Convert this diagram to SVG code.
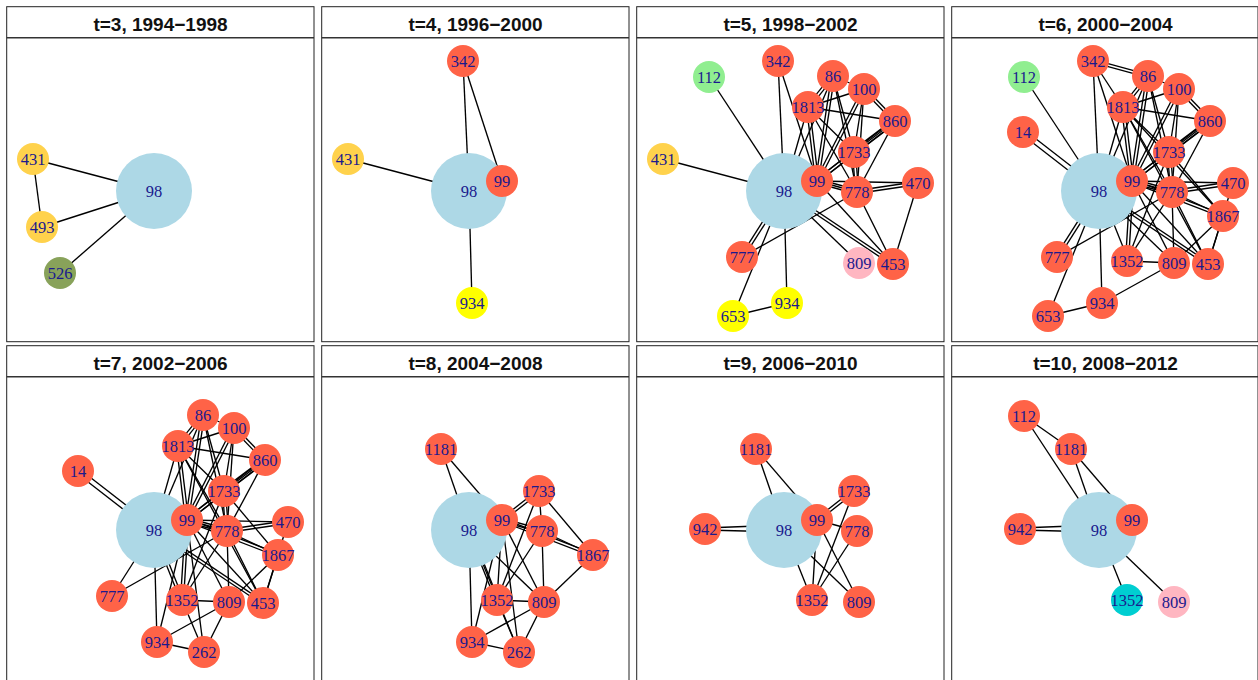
<svg xmlns="http://www.w3.org/2000/svg" width="1258" height="680" viewBox="0 0 1258 680">
<style>
.frame{fill:#fff;stroke:#222;stroke-width:1}
.hdr{stroke:#333;stroke-width:1.4}
.title{font-family:"Liberation Sans",Arial,sans-serif;font-weight:bold;font-size:19px;fill:#111;text-anchor:middle}
.edges line{stroke:#000;stroke-width:1.35}
.lbl{font-family:"Liberation Serif","Times New Roman",serif;font-size:16.5px;fill:#1a1a8e;text-anchor:middle}
.lb{fill:#ADD8E6}
.tm{fill:#FF6347}
.gd{fill:#FFD24C}
.ol{fill:#88A25A}
.ye{fill:#FFFF00}
.lg{fill:#90EE90}
.pk{fill:#FFB6C1}
.cy{fill:#00CED1}
</style>
<rect width="1258" height="680" fill="#fff"/>

<!-- t=3 -->
<g id="panel-t3" transform="translate(0,0)">
<rect class="frame" x="6.7" y="6.7" width="307.3" height="335"/>
<line class="hdr" x1="6.7" y1="37.7" x2="314" y2="37.7"/>
<text class="title" x="160.5" y="31">t=3, 1994−1998</text>
<g class="edges">
<line x1="154" y1="191" x2="33" y2="159"/>
<line x1="154" y1="191" x2="42" y2="227"/>
<line x1="154" y1="191" x2="60" y2="273"/>
<line x1="33" y1="159" x2="42" y2="227"/>
</g>
<g id="t3-98"><circle class="lb" cx="154" cy="191" r="38"/><text class="lbl" x="154" y="196.5">98</text></g>
<g id="t3-431"><circle class="gd" cx="33" cy="159" r="16"/><text class="lbl" x="33" y="164.5">431</text></g>
<g id="t3-493"><circle class="gd" cx="42" cy="227" r="16"/><text class="lbl" x="42" y="232.5">493</text></g>
<g id="t3-526"><circle class="ol" cx="60" cy="273" r="16"/><text class="lbl" x="60" y="278.5">526</text></g>
</g>

<!-- t=4 -->
<g id="panel-t4" transform="translate(315,0)">
<rect class="frame" x="6.7" y="6.7" width="307.3" height="335"/>
<line class="hdr" x1="6.7" y1="37.7" x2="314" y2="37.7"/>
<text class="title" x="160.5" y="31">t=4, 1996−2000</text>
<g class="edges">
<line x1="154" y1="191" x2="33" y2="159"/>
<line x1="154" y1="191" x2="148" y2="61"/>
<line x1="148" y1="61" x2="187" y2="181"/>
<line x1="154" y1="191" x2="157" y2="303"/>
<line x1="154" y1="191" x2="187" y2="181"/>
</g>
<g id="t4-98"><circle class="lb" cx="154" cy="191" r="38"/><text class="lbl" x="154" y="196.5">98</text></g>
<g id="t4-342"><circle class="tm" cx="148" cy="61" r="16"/><text class="lbl" x="148" y="66.5">342</text></g>
<g id="t4-431"><circle class="gd" cx="33" cy="159" r="16"/><text class="lbl" x="33" y="164.5">431</text></g>
<g id="t4-99"><circle class="tm" cx="187" cy="181" r="16"/><text class="lbl" x="187" y="186.5">99</text></g>
<g id="t4-934"><circle class="ye" cx="157" cy="303" r="16"/><text class="lbl" x="157" y="308.5">934</text></g>
</g>

<!-- t=5 -->
<g id="panel-t5" transform="translate(630,0)">
<rect class="frame" x="6.7" y="6.7" width="307.3" height="335"/>
<line class="hdr" x1="6.7" y1="37.7" x2="314" y2="37.7"/>
<text class="title" x="160.5" y="31">t=5, 1998−2002</text>
<g class="edges">
<line x1="179.2" y1="107.9" x2="204.2" y2="76.9"/><line x1="176.8" y1="106.1" x2="201.8" y2="75.1"/>
<line x1="178" y1="107" x2="234" y2="89"/>
<line x1="178" y1="107" x2="265" y2="121"/>
<line x1="176.5" y1="107.2" x2="185.5" y2="181.2"/><line x1="179.5" y1="106.8" x2="188.5" y2="180.8"/>
<line x1="178" y1="107" x2="154" y2="191"/>
<line x1="178" y1="107" x2="227" y2="192"/>
<line x1="178" y1="107" x2="224" y2="152"/>
<line x1="203" y1="76" x2="234" y2="89"/>
<line x1="201.5" y1="75.8" x2="185.5" y2="180.8"/><line x1="204.5" y1="76.2" x2="188.5" y2="181.2"/>
<line x1="203" y1="76" x2="224" y2="152"/>
<line x1="203" y1="76" x2="227" y2="192"/>
<line x1="203" y1="76" x2="154" y2="191"/>
<line x1="232.9" y1="90" x2="263.9" y2="122"/><line x1="235.1" y1="88" x2="266.1" y2="120"/>
<line x1="232.7" y1="88.3" x2="185.7" y2="180.3"/><line x1="235.3" y1="89.7" x2="188.3" y2="181.7"/>
<line x1="234" y1="89" x2="224" y2="152"/>
<line x1="234" y1="89" x2="227" y2="192"/>
<line x1="265" y1="121" x2="224" y2="152"/><line x1="263.8" y1="119.4" x2="222.8" y2="150.4"/><line x1="266.2" y1="122.6" x2="225.2" y2="153.6"/>
<line x1="264.1" y1="119.8" x2="186.1" y2="179.8"/><line x1="265.9" y1="122.2" x2="187.9" y2="182.2"/>
<line x1="265" y1="121" x2="227" y2="192"/>
<line x1="223.1" y1="150.8" x2="186.1" y2="179.8"/><line x1="224.9" y1="153.2" x2="187.9" y2="182.2"/>
<line x1="222.5" y1="152" x2="225.5" y2="192"/><line x1="225.5" y1="152" x2="228.5" y2="192"/>
<line x1="187" y1="181" x2="227" y2="192"/><line x1="186.5" y1="183" x2="226.5" y2="194"/><line x1="187.5" y1="179" x2="227.5" y2="190"/>
<line x1="154" y1="191" x2="187" y2="181"/>
<line x1="187" y1="181" x2="288" y2="183"/>
<line x1="227" y1="193.5" x2="288" y2="184.5"/><line x1="227" y1="190.5" x2="288" y2="181.5"/>
<line x1="154" y1="191" x2="79" y2="77"/>
<line x1="154" y1="191" x2="33" y2="159"/>
<line x1="154" y1="191" x2="148" y2="61"/>
<line x1="148" y1="61" x2="187" y2="181"/>
<line x1="154" y1="191" x2="157" y2="303"/>
<line x1="157" y1="303" x2="103" y2="316"/>
<line x1="103" y1="316" x2="154" y2="191"/>
<line x1="113.3" y1="257.8" x2="155.3" y2="191.8"/><line x1="110.7" y1="256.2" x2="152.7" y2="190.2"/>
<line x1="112" y1="257" x2="227" y2="192"/>
<line x1="154" y1="191" x2="229" y2="263"/>
<line x1="153.2" y1="192.2" x2="262.2" y2="265.2"/><line x1="154.8" y1="189.8" x2="263.8" y2="262.8"/>
<line x1="187" y1="181" x2="263" y2="264"/>
<line x1="227" y1="192" x2="263" y2="264"/>
<line x1="288" y1="183" x2="263" y2="264"/>
</g>
<g id="t5-98"><circle class="lb" cx="154" cy="191" r="38"/><text class="lbl" x="154" y="196.5">98</text></g>
<g id="t5-112"><circle class="lg" cx="79" cy="77" r="16"/><text class="lbl" x="79" y="82.5">112</text></g>
<g id="t5-342"><circle class="tm" cx="148" cy="61" r="16"/><text class="lbl" x="148" y="66.5">342</text></g>
<g id="t5-86"><circle class="tm" cx="203" cy="76" r="16"/><text class="lbl" x="203" y="81.5">86</text></g>
<g id="t5-100"><circle class="tm" cx="234" cy="89" r="16"/><text class="lbl" x="234" y="94.5">100</text></g>
<g id="t5-1813"><circle class="tm" cx="178" cy="107" r="16"/><text class="lbl" x="178" y="112.5">1813</text></g>
<g id="t5-860"><circle class="tm" cx="265" cy="121" r="16"/><text class="lbl" x="265" y="126.5">860</text></g>
<g id="t5-1733"><circle class="tm" cx="224" cy="152" r="16"/><text class="lbl" x="224" y="157.5">1733</text></g>
<g id="t5-431"><circle class="gd" cx="33" cy="159" r="16"/><text class="lbl" x="33" y="164.5">431</text></g>
<g id="t5-99"><circle class="tm" cx="187" cy="181" r="16"/><text class="lbl" x="187" y="186.5">99</text></g>
<g id="t5-778"><circle class="tm" cx="227" cy="192" r="16"/><text class="lbl" x="227" y="197.5">778</text></g>
<g id="t5-470"><circle class="tm" cx="288" cy="183" r="16"/><text class="lbl" x="288" y="188.5">470</text></g>
<g id="t5-777"><circle class="tm" cx="112" cy="257" r="16"/><text class="lbl" x="112" y="262.5">777</text></g>
<g id="t5-809"><circle class="pk" cx="229" cy="263" r="16"/><text class="lbl" x="229" y="268.5">809</text></g>
<g id="t5-453"><circle class="tm" cx="263" cy="264" r="16"/><text class="lbl" x="263" y="269.5">453</text></g>
<g id="t5-934"><circle class="ye" cx="157" cy="303" r="16"/><text class="lbl" x="157" y="308.5">934</text></g>
<g id="t5-653"><circle class="ye" cx="103" cy="316" r="16"/><text class="lbl" x="103" y="321.5">653</text></g>
</g>

<!-- t=6 -->
<g id="panel-t6" transform="translate(945,0)">
<rect class="frame" x="6.7" y="6.7" width="306.3" height="335"/>
<line class="hdr" x1="6.7" y1="37.7" x2="313" y2="37.7"/>
<text class="title" x="160.5" y="31">t=6, 2000−2004</text>
<g class="edges">
<line x1="179.2" y1="107.9" x2="204.2" y2="76.9"/><line x1="176.8" y1="106.1" x2="201.8" y2="75.1"/>
<line x1="178" y1="107" x2="234" y2="89"/>
<line x1="178" y1="107" x2="265" y2="121"/>
<line x1="176.5" y1="107.2" x2="185.5" y2="181.2"/><line x1="179.5" y1="106.8" x2="188.5" y2="180.8"/>
<line x1="178" y1="107" x2="154" y2="191"/>
<line x1="178" y1="107" x2="227" y2="192"/>
<line x1="178" y1="107" x2="224" y2="152"/>
<line x1="203" y1="76" x2="234" y2="89"/>
<line x1="201.5" y1="75.8" x2="185.5" y2="180.8"/><line x1="204.5" y1="76.2" x2="188.5" y2="181.2"/>
<line x1="203" y1="76" x2="224" y2="152"/>
<line x1="203" y1="76" x2="227" y2="192"/>
<line x1="203" y1="76" x2="154" y2="191"/>
<line x1="232.9" y1="90" x2="263.9" y2="122"/><line x1="235.1" y1="88" x2="266.1" y2="120"/>
<line x1="232.7" y1="88.3" x2="185.7" y2="180.3"/><line x1="235.3" y1="89.7" x2="188.3" y2="181.7"/>
<line x1="234" y1="89" x2="224" y2="152"/>
<line x1="234" y1="89" x2="227" y2="192"/>
<line x1="265" y1="121" x2="224" y2="152"/><line x1="263.8" y1="119.4" x2="222.8" y2="150.4"/><line x1="266.2" y1="122.6" x2="225.2" y2="153.6"/>
<line x1="264.1" y1="119.8" x2="186.1" y2="179.8"/><line x1="265.9" y1="122.2" x2="187.9" y2="182.2"/>
<line x1="265" y1="121" x2="227" y2="192"/>
<line x1="223.1" y1="150.8" x2="186.1" y2="179.8"/><line x1="224.9" y1="153.2" x2="187.9" y2="182.2"/>
<line x1="222.5" y1="152" x2="225.5" y2="192"/><line x1="225.5" y1="152" x2="228.5" y2="192"/>
<line x1="187" y1="181" x2="227" y2="192"/><line x1="186.5" y1="183" x2="226.5" y2="194"/><line x1="187.5" y1="179" x2="227.5" y2="190"/>
<line x1="154" y1="191" x2="187" y2="181"/>
<line x1="187" y1="181" x2="288" y2="183"/>
<line x1="227" y1="193.5" x2="288" y2="184.5"/><line x1="227" y1="190.5" x2="288" y2="181.5"/>
<line x1="154" y1="191" x2="79" y2="77"/>
<line x1="154" y1="191" x2="148" y2="61"/>
<line x1="148" y1="61" x2="187" y2="181"/>
<line x1="147.6" y1="62.4" x2="202.6" y2="77.4"/><line x1="148.4" y1="59.6" x2="203.4" y2="74.6"/>
<line x1="148" y1="61" x2="178" y2="107"/>
<line x1="76.5" y1="134" x2="152.5" y2="193"/><line x1="79.5" y1="130" x2="155.5" y2="189"/>
<line x1="154" y1="191" x2="157" y2="303"/>
<line x1="157" y1="303" x2="103" y2="316"/>
<line x1="103" y1="316" x2="154" y2="191"/>
<line x1="113.3" y1="257.8" x2="155.3" y2="191.8"/><line x1="110.7" y1="256.2" x2="152.7" y2="190.2"/>
<line x1="112" y1="257" x2="227" y2="192"/>
<line x1="154" y1="191" x2="229" y2="263"/>
<line x1="153.2" y1="192.2" x2="262.2" y2="265.2"/><line x1="154.8" y1="189.8" x2="263.8" y2="262.8"/>
<line x1="187" y1="181" x2="263" y2="264"/>
<line x1="227" y1="192" x2="263" y2="264"/>
<line x1="288" y1="183" x2="263" y2="264"/>
<line x1="278.5" y1="214.6" x2="187.5" y2="179.6"/><line x1="277.5" y1="217.4" x2="186.5" y2="182.4"/>
<line x1="278" y1="216" x2="227" y2="192"/>
<line x1="278" y1="216" x2="224" y2="152"/>
<line x1="278" y1="216" x2="178" y2="107"/>
<line x1="278" y1="216" x2="229" y2="263"/>
<line x1="278" y1="216" x2="263" y2="264"/>
<line x1="183.4" y1="260.4" x2="155.4" y2="190.4"/>
<line x1="183.5" y1="261" x2="188.5" y2="181"/><line x1="180.5" y1="261" x2="185.5" y2="181"/>
<line x1="182" y1="261" x2="224" y2="152"/>
<line x1="182" y1="261" x2="227" y2="192"/>
<line x1="182" y1="261" x2="229" y2="263"/>
<line x1="229" y1="263" x2="187" y2="181"/>
<line x1="229" y1="263" x2="227" y2="192"/>
<line x1="229" y1="263" x2="157" y2="303"/>
<line x1="178" y1="107" x2="263" y2="264"/>
</g>
<g id="t6-98"><circle class="lb" cx="154" cy="191" r="38"/><text class="lbl" x="154" y="196.5">98</text></g>
<g id="t6-112"><circle class="lg" cx="79" cy="77" r="16"/><text class="lbl" x="79" y="82.5">112</text></g>
<g id="t6-14"><circle class="tm" cx="78" cy="132" r="16"/><text class="lbl" x="78" y="137.5">14</text></g>
<g id="t6-342"><circle class="tm" cx="148" cy="61" r="16"/><text class="lbl" x="148" y="66.5">342</text></g>
<g id="t6-86"><circle class="tm" cx="203" cy="76" r="16"/><text class="lbl" x="203" y="81.5">86</text></g>
<g id="t6-100"><circle class="tm" cx="234" cy="89" r="16"/><text class="lbl" x="234" y="94.5">100</text></g>
<g id="t6-1813"><circle class="tm" cx="178" cy="107" r="16"/><text class="lbl" x="178" y="112.5">1813</text></g>
<g id="t6-860"><circle class="tm" cx="265" cy="121" r="16"/><text class="lbl" x="265" y="126.5">860</text></g>
<g id="t6-1733"><circle class="tm" cx="224" cy="152" r="16"/><text class="lbl" x="224" y="157.5">1733</text></g>
<g id="t6-99"><circle class="tm" cx="187" cy="181" r="16"/><text class="lbl" x="187" y="186.5">99</text></g>
<g id="t6-778"><circle class="tm" cx="227" cy="192" r="16"/><text class="lbl" x="227" y="197.5">778</text></g>
<g id="t6-470"><circle class="tm" cx="288" cy="183" r="16"/><text class="lbl" x="288" y="188.5">470</text></g>
<g id="t6-1867"><circle class="tm" cx="278" cy="216" r="16"/><text class="lbl" x="278" y="221.5">1867</text></g>
<g id="t6-777"><circle class="tm" cx="112" cy="257" r="16"/><text class="lbl" x="112" y="262.5">777</text></g>
<g id="t6-1352"><circle class="tm" cx="182" cy="261" r="16"/><text class="lbl" x="182" y="266.5">1352</text></g>
<g id="t6-809"><circle class="tm" cx="229" cy="263" r="16"/><text class="lbl" x="229" y="268.5">809</text></g>
<g id="t6-453"><circle class="tm" cx="263" cy="264" r="16"/><text class="lbl" x="263" y="269.5">453</text></g>
<g id="t6-934"><circle class="tm" cx="157" cy="303" r="16"/><text class="lbl" x="157" y="308.5">934</text></g>
<g id="t6-653"><circle class="tm" cx="103" cy="316" r="16"/><text class="lbl" x="103" y="321.5">653</text></g>
</g>

<!-- t=7 -->
<g id="panel-t7" transform="translate(0,339)">
<rect class="frame" x="6.7" y="6.7" width="307.3" height="345"/>
<line class="hdr" x1="6.7" y1="37.7" x2="314" y2="37.7"/>
<text class="title" x="160.5" y="31">t=7, 2002−2006</text>
<g class="edges">
<line x1="179.2" y1="107.9" x2="204.2" y2="76.9"/><line x1="176.8" y1="106.1" x2="201.8" y2="75.1"/>
<line x1="178" y1="107" x2="234" y2="89"/>
<line x1="178" y1="107" x2="265" y2="121"/>
<line x1="176.5" y1="107.2" x2="185.5" y2="181.2"/><line x1="179.5" y1="106.8" x2="188.5" y2="180.8"/>
<line x1="178" y1="107" x2="154" y2="191"/>
<line x1="178" y1="107" x2="227" y2="192"/>
<line x1="178" y1="107" x2="224" y2="152"/>
<line x1="203" y1="76" x2="234" y2="89"/>
<line x1="201.5" y1="75.8" x2="185.5" y2="180.8"/><line x1="204.5" y1="76.2" x2="188.5" y2="181.2"/>
<line x1="203" y1="76" x2="224" y2="152"/>
<line x1="203" y1="76" x2="227" y2="192"/>
<line x1="203" y1="76" x2="154" y2="191"/>
<line x1="232.9" y1="90" x2="263.9" y2="122"/><line x1="235.1" y1="88" x2="266.1" y2="120"/>
<line x1="232.7" y1="88.3" x2="185.7" y2="180.3"/><line x1="235.3" y1="89.7" x2="188.3" y2="181.7"/>
<line x1="234" y1="89" x2="224" y2="152"/>
<line x1="234" y1="89" x2="227" y2="192"/>
<line x1="265" y1="121" x2="224" y2="152"/><line x1="263.8" y1="119.4" x2="222.8" y2="150.4"/><line x1="266.2" y1="122.6" x2="225.2" y2="153.6"/>
<line x1="264.1" y1="119.8" x2="186.1" y2="179.8"/><line x1="265.9" y1="122.2" x2="187.9" y2="182.2"/>
<line x1="265" y1="121" x2="227" y2="192"/>
<line x1="223.1" y1="150.8" x2="186.1" y2="179.8"/><line x1="224.9" y1="153.2" x2="187.9" y2="182.2"/>
<line x1="222.5" y1="152" x2="225.5" y2="192"/><line x1="225.5" y1="152" x2="228.5" y2="192"/>
<line x1="187" y1="181" x2="227" y2="192"/><line x1="186.5" y1="183" x2="226.5" y2="194"/><line x1="187.5" y1="179" x2="227.5" y2="190"/>
<line x1="154" y1="191" x2="187" y2="181"/>
<line x1="187" y1="181" x2="288" y2="183"/>
<line x1="227" y1="193.5" x2="288" y2="184.5"/><line x1="227" y1="190.5" x2="288" y2="181.5"/>
<line x1="76.5" y1="134" x2="152.5" y2="193"/><line x1="79.5" y1="130" x2="155.5" y2="189"/>
<line x1="112" y1="257" x2="154" y2="191"/>
<line x1="112" y1="257" x2="227" y2="192"/>
<line x1="154" y1="191" x2="157" y2="303"/>
<line x1="157" y1="303" x2="229" y2="263"/>
<line x1="157" y1="303" x2="204" y2="313"/>
<line x1="157" y1="303" x2="187" y2="181"/>
<line x1="204" y1="313" x2="182" y2="261"/>
<line x1="204" y1="313" x2="229" y2="263"/>
<line x1="204" y1="313" x2="187" y2="181"/>
<line x1="182" y1="261" x2="229" y2="263"/>
<line x1="183.4" y1="260.4" x2="155.4" y2="190.4"/><line x1="180.6" y1="261.6" x2="152.6" y2="191.6"/>
<line x1="183.5" y1="261" x2="188.5" y2="181"/><line x1="180.5" y1="261" x2="185.5" y2="181"/>
<line x1="182" y1="261" x2="224" y2="152"/>
<line x1="182" y1="261" x2="227" y2="192"/>
<line x1="229" y1="263" x2="187" y2="181"/>
<line x1="229" y1="263" x2="227" y2="192"/>
<line x1="229" y1="263" x2="278" y2="216"/>
<line x1="263" y1="264" x2="278" y2="216"/>
<line x1="263" y1="264" x2="187" y2="181"/>
<line x1="153.2" y1="192.2" x2="262.2" y2="265.2"/><line x1="154.8" y1="189.8" x2="263.8" y2="262.8"/>
<line x1="263" y1="264" x2="227" y2="192"/>
<line x1="288" y1="183" x2="263" y2="264"/>
<line x1="278.5" y1="214.6" x2="187.5" y2="179.6"/><line x1="277.5" y1="217.4" x2="186.5" y2="182.4"/>
<line x1="278" y1="216" x2="227" y2="192"/>
<line x1="278" y1="216" x2="224" y2="152"/>
<line x1="178" y1="107" x2="263" y2="264"/>
</g>
<g id="t7-98"><circle class="lb" cx="154" cy="191" r="38"/><text class="lbl" x="154" y="196.5">98</text></g>
<g id="t7-14"><circle class="tm" cx="78" cy="132" r="16"/><text class="lbl" x="78" y="137.5">14</text></g>
<g id="t7-86"><circle class="tm" cx="203" cy="76" r="16"/><text class="lbl" x="203" y="81.5">86</text></g>
<g id="t7-100"><circle class="tm" cx="234" cy="89" r="16"/><text class="lbl" x="234" y="94.5">100</text></g>
<g id="t7-1813"><circle class="tm" cx="178" cy="107" r="16"/><text class="lbl" x="178" y="112.5">1813</text></g>
<g id="t7-860"><circle class="tm" cx="265" cy="121" r="16"/><text class="lbl" x="265" y="126.5">860</text></g>
<g id="t7-1733"><circle class="tm" cx="224" cy="152" r="16"/><text class="lbl" x="224" y="157.5">1733</text></g>
<g id="t7-99"><circle class="tm" cx="187" cy="181" r="16"/><text class="lbl" x="187" y="186.5">99</text></g>
<g id="t7-778"><circle class="tm" cx="227" cy="192" r="16"/><text class="lbl" x="227" y="197.5">778</text></g>
<g id="t7-470"><circle class="tm" cx="288" cy="183" r="16"/><text class="lbl" x="288" y="188.5">470</text></g>
<g id="t7-1867"><circle class="tm" cx="278" cy="216" r="16"/><text class="lbl" x="278" y="221.5">1867</text></g>
<g id="t7-777"><circle class="tm" cx="112" cy="257" r="16"/><text class="lbl" x="112" y="262.5">777</text></g>
<g id="t7-1352"><circle class="tm" cx="182" cy="261" r="16"/><text class="lbl" x="182" y="266.5">1352</text></g>
<g id="t7-809"><circle class="tm" cx="229" cy="263" r="16"/><text class="lbl" x="229" y="268.5">809</text></g>
<g id="t7-453"><circle class="tm" cx="263" cy="264" r="16"/><text class="lbl" x="263" y="269.5">453</text></g>
<g id="t7-934"><circle class="tm" cx="157" cy="303" r="16"/><text class="lbl" x="157" y="308.5">934</text></g>
<g id="t7-262"><circle class="tm" cx="204" cy="313" r="16"/><text class="lbl" x="204" y="318.5">262</text></g>
</g>

<!-- t=8 -->
<g id="panel-t8" transform="translate(315,339)">
<rect class="frame" x="6.7" y="6.7" width="307.3" height="345"/>
<line class="hdr" x1="6.7" y1="37.7" x2="314" y2="37.7"/>
<text class="title" x="160.5" y="31">t=8, 2004−2008</text>
<g class="edges">
<line x1="126" y1="110" x2="154" y2="191"/>
<line x1="126" y1="110" x2="187" y2="181"/>
<line x1="223.1" y1="150.8" x2="186.1" y2="179.8"/><line x1="224.9" y1="153.2" x2="187.9" y2="182.2"/>
<line x1="224" y1="152" x2="227" y2="192"/>
<line x1="224" y1="152" x2="278" y2="216"/>
<line x1="224" y1="152" x2="182" y2="261"/>
<line x1="186.6" y1="182.5" x2="226.6" y2="193.5"/><line x1="187.4" y1="179.5" x2="227.4" y2="190.5"/>
<line x1="187.5" y1="179.6" x2="278.5" y2="214.6"/><line x1="186.5" y1="182.4" x2="277.5" y2="217.4"/>
<line x1="227" y1="192" x2="278" y2="216"/>
<line x1="227" y1="192" x2="229" y2="263"/>
<line x1="227" y1="192" x2="182" y2="261"/>
<line x1="278" y1="216" x2="229" y2="263"/>
<line x1="182" y1="261" x2="229" y2="263"/>
<line x1="182" y1="261" x2="204" y2="313"/>
<line x1="183.4" y1="260.4" x2="155.4" y2="190.4"/><line x1="180.6" y1="261.6" x2="152.6" y2="191.6"/>
<line x1="182" y1="261" x2="187" y2="181"/>
<line x1="187" y1="181" x2="229" y2="263"/>
<line x1="154" y1="191" x2="229" y2="263"/>
<line x1="157" y1="303" x2="154" y2="191"/>
<line x1="157" y1="303" x2="187" y2="181"/>
<line x1="157" y1="303" x2="229" y2="263"/>
<line x1="157" y1="303" x2="204" y2="313"/>
<line x1="204" y1="313" x2="229" y2="263"/>
<line x1="204" y1="313" x2="187" y2="181"/>
<line x1="204" y1="313" x2="154" y2="191"/>
</g>
<g id="t8-98"><circle class="lb" cx="154" cy="191" r="38"/><text class="lbl" x="154" y="196.5">98</text></g>
<g id="t8-1181"><circle class="tm" cx="126" cy="110" r="16"/><text class="lbl" x="126" y="115.5">1181</text></g>
<g id="t8-1733"><circle class="tm" cx="224" cy="152" r="16"/><text class="lbl" x="224" y="157.5">1733</text></g>
<g id="t8-99"><circle class="tm" cx="187" cy="181" r="16"/><text class="lbl" x="187" y="186.5">99</text></g>
<g id="t8-778"><circle class="tm" cx="227" cy="192" r="16"/><text class="lbl" x="227" y="197.5">778</text></g>
<g id="t8-1867"><circle class="tm" cx="278" cy="216" r="16"/><text class="lbl" x="278" y="221.5">1867</text></g>
<g id="t8-1352"><circle class="tm" cx="182" cy="261" r="16"/><text class="lbl" x="182" y="266.5">1352</text></g>
<g id="t8-809"><circle class="tm" cx="229" cy="263" r="16"/><text class="lbl" x="229" y="268.5">809</text></g>
<g id="t8-934"><circle class="tm" cx="157" cy="303" r="16"/><text class="lbl" x="157" y="308.5">934</text></g>
<g id="t8-262"><circle class="tm" cx="204" cy="313" r="16"/><text class="lbl" x="204" y="318.5">262</text></g>
</g>

<!-- t=9 -->
<g id="panel-t9" transform="translate(630,339)">
<rect class="frame" x="6.7" y="6.7" width="307.3" height="345"/>
<line class="hdr" x1="6.7" y1="37.7" x2="314" y2="37.7"/>
<text class="title" x="160.5" y="31">t=9, 2006−2010</text>
<g class="edges">
<line x1="126" y1="110" x2="154" y2="191"/>
<line x1="126" y1="110" x2="187" y2="181"/>
<line x1="75" y1="189" x2="154" y2="186"/><line x1="75" y1="191" x2="154" y2="193"/>
<line x1="223.1" y1="150.8" x2="186.1" y2="179.8"/><line x1="224.9" y1="153.2" x2="187.9" y2="182.2"/>
<line x1="187" y1="181" x2="227" y2="192"/>
<line x1="224" y1="152" x2="182" y2="261"/>
<line x1="227" y1="192" x2="182" y2="261"/>
<line x1="154" y1="191" x2="182" y2="261"/>
<line x1="187" y1="181" x2="182" y2="261"/>
<line x1="154" y1="191" x2="229" y2="263"/>
<line x1="187" y1="181" x2="229" y2="263"/>
</g>
<g id="t9-98"><circle class="lb" cx="154" cy="191" r="38"/><text class="lbl" x="154" y="196.5">98</text></g>
<g id="t9-1181"><circle class="tm" cx="126" cy="110" r="16"/><text class="lbl" x="126" y="115.5">1181</text></g>
<g id="t9-942"><circle class="tm" cx="75" cy="190" r="16"/><text class="lbl" x="75" y="195.5">942</text></g>
<g id="t9-1733"><circle class="tm" cx="224" cy="152" r="16"/><text class="lbl" x="224" y="157.5">1733</text></g>
<g id="t9-99"><circle class="tm" cx="187" cy="181" r="16"/><text class="lbl" x="187" y="186.5">99</text></g>
<g id="t9-778"><circle class="tm" cx="227" cy="192" r="16"/><text class="lbl" x="227" y="197.5">778</text></g>
<g id="t9-1352"><circle class="tm" cx="182" cy="261" r="16"/><text class="lbl" x="182" y="266.5">1352</text></g>
<g id="t9-809"><circle class="tm" cx="229" cy="263" r="16"/><text class="lbl" x="229" y="268.5">809</text></g>
</g>

<!-- t=10 -->
<g id="panel-t10" transform="translate(945,339)">
<rect class="frame" x="6.7" y="6.7" width="306.3" height="345"/>
<line class="hdr" x1="6.7" y1="37.7" x2="313" y2="37.7"/>
<text class="title" x="160.5" y="31">t=10, 2008−2012</text>
<g class="edges">
<line x1="79" y1="77" x2="126" y2="110"/>
<line x1="79" y1="77" x2="154" y2="191"/>
<line x1="126" y1="110" x2="154" y2="191"/>
<line x1="126" y1="110" x2="187" y2="181"/>
<line x1="75" y1="189" x2="154" y2="186"/><line x1="75" y1="191" x2="154" y2="193"/>
<line x1="154" y1="191" x2="182" y2="261"/>
<line x1="154" y1="191" x2="229" y2="263"/>
</g>
<g id="t10-98"><circle class="lb" cx="154" cy="191" r="38"/><text class="lbl" x="154" y="196.5">98</text></g>
<g id="t10-112"><circle class="tm" cx="79" cy="77" r="16"/><text class="lbl" x="79" y="82.5">112</text></g>
<g id="t10-1181"><circle class="tm" cx="126" cy="110" r="16"/><text class="lbl" x="126" y="115.5">1181</text></g>
<g id="t10-942"><circle class="tm" cx="75" cy="190" r="16"/><text class="lbl" x="75" y="195.5">942</text></g>
<g id="t10-99"><circle class="tm" cx="187" cy="181" r="16"/><text class="lbl" x="187" y="186.5">99</text></g>
<g id="t10-1352"><circle class="cy" cx="182" cy="261" r="16"/><text class="lbl" x="182" y="266.5">1352</text></g>
<g id="t10-809"><circle class="pk" cx="229" cy="263" r="16"/><text class="lbl" x="229" y="268.5">809</text></g>
</g>
</svg>
